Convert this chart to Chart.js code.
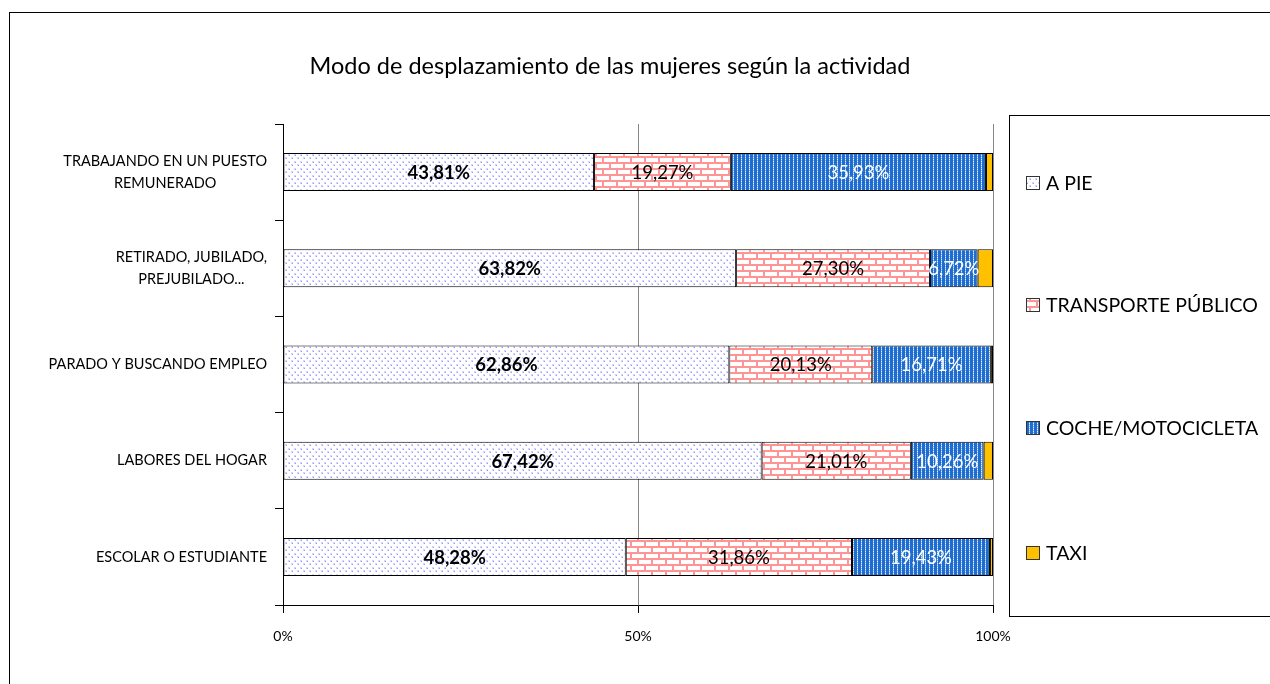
<!DOCTYPE html>
<html>
<head>
<meta charset="utf-8">
<script src="https://cdn.jsdelivr.net/npm/chart.js@4"></script>
<style>
html,body{margin:0;padding:0;background:#fff;}
canvas{display:block;}
</style>
</head>
<body>
<canvas id="c" width="1270" height="684"></canvas>
<script>
// ---- data ----
const chartTitle = "Modo de desplazamiento de las mujeres según la actividad";
const categories = [
  ["TRABAJANDO EN UN PUESTO", "REMUNERADO"],
  ["RETIRADO, JUBILADO,", "PREJUBILADO..."],
  ["PARADO Y BUSCANDO EMPLEO"],
  ["LABORES DEL HOGAR"],
  ["ESCOLAR O ESTUDIANTE"]
];
const seriesNames = ["A PIE", "TRANSPORTE PÚBLICO", "COCHE/MOTOCICLETA", "TAXI"];
const aPie = [43.81, 63.82, 62.86, 67.42, 48.28];
const transportePublico = [19.27, 27.30, 20.13, 21.01, 31.86];
const cocheMoto = [35.93, 6.72, 16.71, 10.26, 19.43];
const taxi = [0.99, 2.16, 0.30, 1.31, 0.43];
const xTicks = [0, 50, 100];

const FONT = "Lato, 'Open Sans', 'Noto Sans', sans-serif";

// ---- patterns ----
function makePattern(w, h, draw) {
  const c = document.createElement('canvas');
  c.width = w; c.height = h;
  const g = c.getContext('2d');
  draw(g);
  return g.createPattern(c, 'repeat');
}
const dotsPattern = makePattern(6, 7, g => {
  g.fillStyle = '#ffffff'; g.fillRect(0, 0, 6, 7);
  g.fillStyle = '#d4d4ff';
  g.fillRect(0, 0, 2, 2);
  g.fillRect(3, 3, 2, 2);
  g.fillStyle = '#9a9af8';
  g.fillRect(1, 1, 1, 1);
  g.fillRect(4, 4, 1, 1);
});
const brickPattern = makePattern(14, 12, g => {
  g.fillStyle = '#ffffff'; g.fillRect(0, 0, 14, 12);
  g.fillStyle = '#ff9494';
  g.fillRect(0, 0, 14, 2);
  g.fillRect(0, 6, 14, 2);
  g.fillRect(0, 0, 2, 6);
  g.fillRect(7, 6, 2, 6);
});
const carPattern = makePattern(4, 4, g => {
  g.fillStyle = '#1f6dcf'; g.fillRect(0, 0, 4, 4);
  g.fillStyle = '#7fb0ec';
  g.fillRect(1, 0, 1, 4);
  g.fillStyle = '#e6f0ff';
  g.fillRect(1, 1, 1, 1);
  g.fillRect(1, 3, 1, 1);
});
const taxiColor = '#ffc000';

// ---- plugins ----
const framePlugin = {
  id: 'frame',
  beforeDraw(chart) {
    const ctx = chart.ctx;
    ctx.save();
    ctx.fillStyle = '#fff';
    ctx.fillRect(0, 0, chart.width, chart.height);
    ctx.strokeStyle = '#000';
    ctx.lineWidth = 1;
    ctx.strokeRect(9.5, 12.5, 1300, 700);
    ctx.fillStyle = '#000';
    ctx.font = "23.5px " + FONT;
    ctx.textAlign = 'center';
    ctx.textBaseline = 'middle';
    ctx.fillText(chartTitle, 610, 66);
    ctx.restore();
  }
};

const yLabelPlugin = {
  id: 'yLabels',
  afterDraw(chart) {
    const ctx = chart.ctx;
    const ys = chart.scales.y;
    ctx.save();
    ctx.fillStyle = '#000';
    ctx.font = "14.5px " + FONT;
    ctx.textAlign = 'center';
    ctx.textBaseline = 'middle';
    chart.data.labels.forEach((lines, i) => {
      const yc = ys.getPixelForValue(i);
      const maxW = Math.max(...lines.map(l => ctx.measureText(l).width));
      const cx = ys.right - 16 - maxW / 2;
      const lh = 22;
      lines.forEach((l, k) => {
        ctx.fillText(l, cx, yc + (k - (lines.length - 1) / 2) * lh);
      });
    });
    ctx.restore();
  }
};

const valueLabelPlugin = {
  id: 'valueLabels',
  afterDatasetsDraw(chart) {
    const ctx = chart.ctx;
    ctx.save();
    ctx.textAlign = 'center';
    ctx.textBaseline = 'middle';
    chart.data.datasets.forEach((ds, di) => {
      if (!ds.labelStyle) return;
      const meta = chart.getDatasetMeta(di);
      meta.data.forEach((bar, i) => {
        const v = ds.data[i];
        const txt = v.toFixed(2).replace('.', ',') + '%';
        const cx = (bar.x + bar.base) / 2;
        ctx.font = (ds.labelStyle.bold ? 'bold ' : '') + "18.5px " + FONT;
        ctx.fillStyle = ds.labelStyle.color;
        ctx.fillText(txt, cx, bar.y + 1);
      });
    });
    ctx.restore();
  }
};

const legendPlugin = {
  id: 'customLegend',
  afterDraw(chart) {
    const ctx = chart.ctx;
    ctx.save();
    ctx.strokeStyle = '#000';
    ctx.lineWidth = 1;
    ctx.strokeRect(1009.5, 115.5, 400, 501);
    const rows = [183, 305, 428, 553];
    ctx.font = "19.5px " + FONT;
    ctx.textBaseline = 'middle';
    ctx.textAlign = 'left';
    chart.data.datasets.forEach((ds, i) => {
      const y = rows[i];
      ctx.fillStyle = ds.backgroundColor;
      ctx.fillRect(1026, y - 7, 14, 14);
      ctx.strokeStyle = '#333';
      ctx.strokeRect(1026.5, y - 6.5, 13, 13);
      ctx.fillStyle = '#000';
      ctx.fillText(ds.label, 1046, y + 1);
    });
    ctx.restore();
  }
};

const makeDs = (label, data, bg, labelStyle) => ({
  label, data,
  backgroundColor: bg,
  borderColor: '#000',
  borderWidth: 1,
  borderSkipped: false,
  barPercentage: 0.395,
  categoryPercentage: 1.0,
  labelStyle
});

new Chart(document.getElementById('c'), {
  type: 'bar',
  data: {
    labels: categories,
    datasets: [
      makeDs(seriesNames[0], aPie, dotsPattern, { color: '#000', bold: true }),
      makeDs(seriesNames[1], transportePublico, brickPattern, { color: '#000', bold: false }),
      makeDs(seriesNames[2], cocheMoto, carPattern, { color: '#ffffff', bold: false }),
      makeDs(seriesNames[3], taxi, taxiColor, null)
    ]
  },
  options: {
    indexAxis: 'y',
    responsive: false,
    animation: false,
    layout: { padding: { left: 0, right: 277, top: 124, bottom: 39 } },
    plugins: {
      legend: { display: false },
      title: { display: false },
      tooltip: { enabled: false }
    },
    scales: {
      x: {
        stacked: true,
        min: 0, max: 100,
        afterBuildTicks(scale) { scale.ticks = xTicks.map(v => ({ value: v })); },
        afterFit(scale) { scale.height = 40; },
        ticks: {
          callback: v => v + '%',
          color: '#000',
          font: { family: FONT, size: 14 },
          padding: 15,
          maxRotation: 0
        },
        grid: {
          color: '#868686',
          tickColor: '#000',
          tickLength: 8,
          lineWidth: 1
        },
        border: { color: '#000', width: 1 }
      },
      y: {
        stacked: true,
        afterFit(scale) { scale.width = 283; },
        ticks: { display: false },
        grid: {
          offset: true,
          drawOnChartArea: false,
          drawTicks: true,
          tickLength: 8,
          tickColor: '#000'
        },
        border: { color: '#000', width: 1 }
      }
    }
  },
  plugins: [framePlugin, yLabelPlugin, valueLabelPlugin, legendPlugin]
});
</script>
</body>
</html>
